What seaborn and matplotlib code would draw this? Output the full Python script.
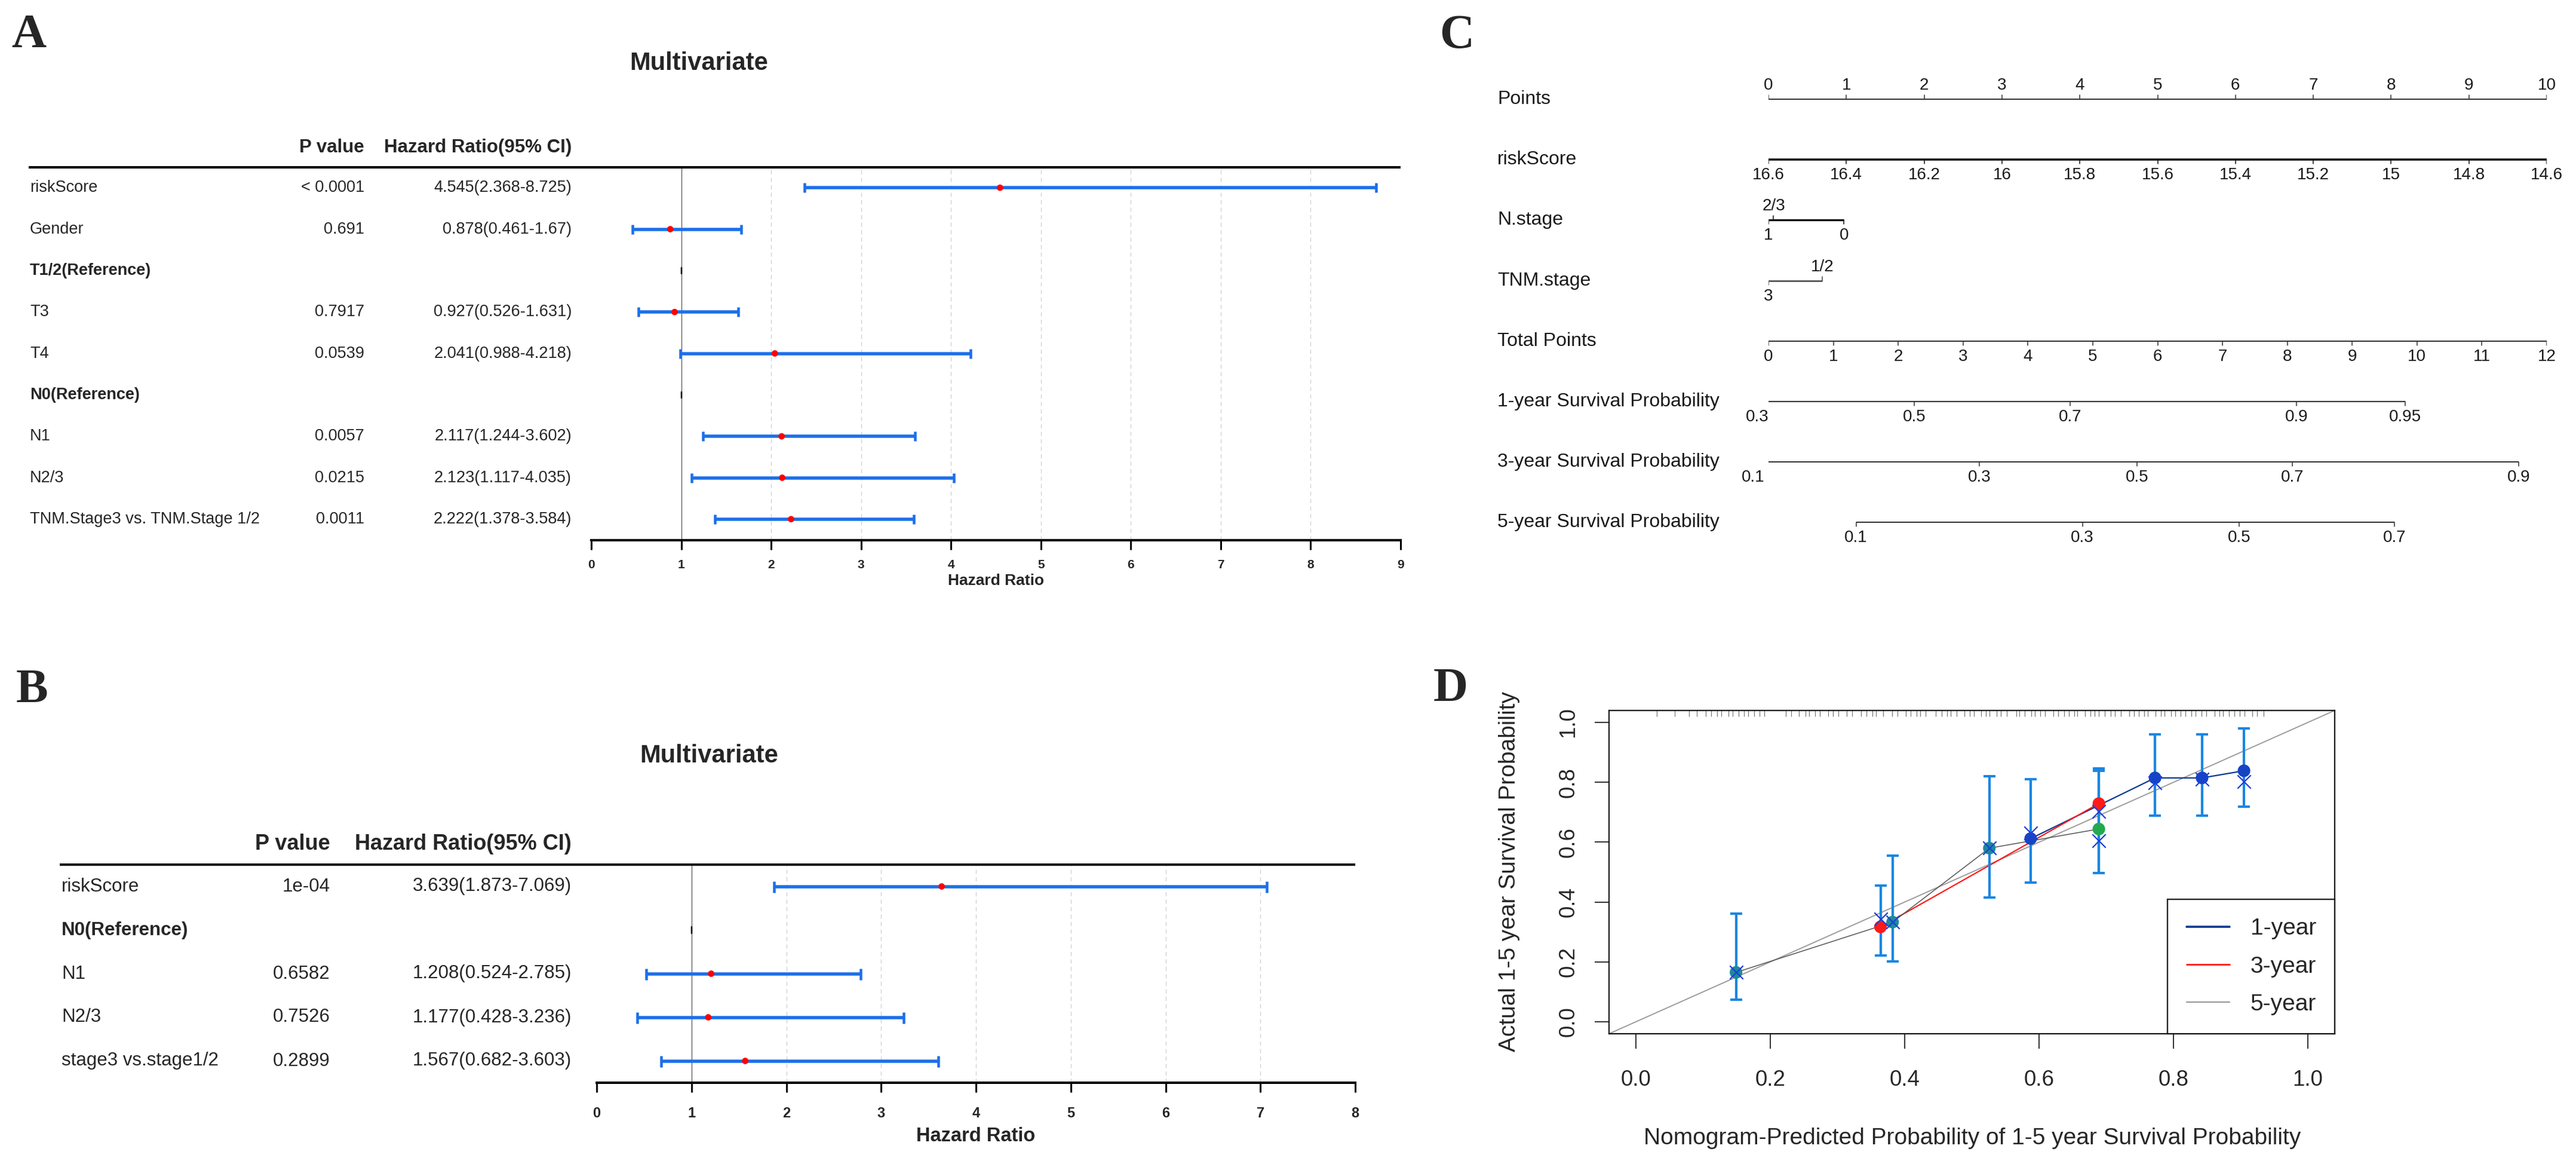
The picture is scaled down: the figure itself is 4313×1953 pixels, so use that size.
import numpy as np
import pandas as pd
import matplotlib
matplotlib.use("Agg")
import matplotlib.pyplot as plt
import seaborn as sns
from matplotlib import transforms
from matplotlib.lines import Line2D

# ======================= DATA =======================
# Panel A : multivariate Cox (forest plot)
A_names = ["riskScore", "Gender", "T1/2(Reference)", "T3", "T4", "N0(Reference)",
           "N1", "N2/3", "TNM.Stage3 vs. TNM.Stage 1/2"]
A_pvalue = ["< 0.0001", "0.691", "", "0.7917", "0.0539", "", "0.0057", "0.0215", "0.0011"]
A_hr = [4.545, 0.878, None, 0.927, 2.041, None, 2.117, 2.123, 2.222]
A_low = [2.368, 0.461, None, 0.526, 0.988, None, 1.244, 1.117, 1.378]
A_high = [8.725, 1.67, None, 1.631, 4.218, None, 3.602, 4.035, 3.584]
A_xticks = [0, 1, 2, 3, 4, 5, 6, 7, 8, 9]

# Panel B : multivariate Cox (forest plot)
B_names = ["riskScore", "N0(Reference)", "N1", "N2/3", "stage3 vs.stage1/2"]
B_pvalue = ["1e-04", "", "0.6582", "0.7526", "0.2899"]
B_hr = [3.639, None, 1.208, 1.177, 1.567]
B_low = [1.873, None, 0.524, 0.428, 0.682]
B_high = [7.069, None, 2.785, 3.236, 3.603]
B_xticks = [0, 1, 2, 3, 4, 5, 6, 7, 8]

# Panel C : nomogram (positions in points / total points)
C_points_ticks = [0, 1, 2, 3, 4, 5, 6, 7, 8, 9, 10]
C_risk_values = [16.6, 16.4, 16.2, 16.0, 15.8, 15.6, 15.4, 15.2, 15.0, 14.8, 14.6]
C_risk_points = [0, 1, 2, 3, 4, 5, 6, 7, 8, 9, 10]
C_nstage_labels = ["2/3", "1", "0"]
C_nstage_points = [0.065, 0.0, 0.97]
C_tnm_labels = ["1/2", "3"]
C_tnm_points = [0.69, 0.0]
C_total_ticks = [0, 1, 2, 3, 4, 5, 6, 7, 8, 9, 10, 11, 12]
C_surv1_values = [0.3, 0.5, 0.7, 0.9, 0.95]
C_surv1_total = [-0.17, 2.25, 4.65, 8.14, 9.82]
C_surv3_values = [0.1, 0.3, 0.5, 0.7, 0.9]
C_surv3_total = [-0.24, 3.25, 5.68, 8.08, 11.57]
C_surv5_values = [0.1, 0.3, 0.5, 0.7]
C_surv5_total = [1.35, 4.84, 7.26, 9.65]
C_max_points = 10
C_max_total = 12

# Panel D : calibration curves
D1_pred = [0.5875, 0.7726, 0.8426, 0.905]
D1_obs = [0.612, 0.8147, 0.8147, 0.8386]
D1_low = [0.4646, 0.689, 0.689, 0.7191]
D1_high = [0.8108, 0.9602, 0.9602, 0.980]
D1_corr = [0.6315, 0.7975, 0.81, 0.8028]

D3_pred = [0.364, 0.689]
D3_obs = [0.317, 0.729]
D3_low = [0.221, 0.4966]
D3_high = [0.456, 0.8466]
D3_corr = [0.343, 0.703]

D5_pred = [0.149, 0.382, 0.526, 0.689]
D5_obs = [0.165, 0.333, 0.580, 0.644]
D5_low = [0.074, 0.201, 0.416, 0.4966]
D5_high = [0.361, 0.554, 0.821, 0.8386]
D5_corr = [0.165, 0.333, 0.580, 0.604]

D_rug = [0.031, 0.058, 0.079, 0.091, 0.104, 0.112, 0.121, 0.127, 0.138, 0.144, 0.153,
         0.161, 0.167, 0.176, 0.184, 0.191, 0.223, 0.231, 0.243, 0.252, 0.258, 0.267,
         0.274, 0.286, 0.293, 0.301, 0.314, 0.322, 0.335, 0.343, 0.352, 0.357, 0.368,
         0.381, 0.389, 0.402, 0.409, 0.418, 0.423, 0.431, 0.446, 0.455, 0.463, 0.468,
         0.477, 0.489, 0.497, 0.503, 0.514, 0.521, 0.526, 0.537, 0.543, 0.552, 0.566,
         0.571, 0.579, 0.588, 0.594, 0.602, 0.609, 0.621, 0.628, 0.637, 0.644, 0.652,
         0.657, 0.668, 0.676, 0.683, 0.689, 0.698, 0.707, 0.713, 0.722, 0.734, 0.741,
         0.748, 0.756, 0.762, 0.773, 0.781, 0.787, 0.796, 0.803, 0.811, 0.818, 0.827,
         0.833, 0.842, 0.849, 0.861, 0.868, 0.874, 0.883, 0.891, 0.899, 0.906, 0.917,
         0.924, 0.934]
D_ticks = [0.0, 0.2, 0.4, 0.6, 0.8, 1.0]

# ======================= STYLE / LAYOUT =======================
sns.set_theme(style="white")
plt.rcParams["font.family"] = ["Liberation Sans", "DejaVu Sans"]
plt.rcParams["axes.unicode_minus"] = False

W, H, DPI = 4313, 1953, 100
PT = 72.0 / DPI
fig = plt.figure(figsize=(W / DPI, H / DPI), dpi=DPI)
fig.patch.set_facecolor("white")


def add_ax(l, t, r, b):
    return fig.add_axes([l / W, 1 - b / H, (r - l) / W, (b - t) / H])


def ftext(x, y, s, **kw):
    return fig.text(x / W, 1 - y / H, s, **kw)


SERIF = ["Liberation Serif", "DejaVu Serif"]
for letter, x, y in [("A", 19, 79), ("B", 27, 1175), ("C", 2410, 80), ("D", 2400, 1173)]:
    ftext(x, y, letter, fontsize=58, fontweight="bold", family=SERIF, ha="left", va="baseline")

BLUE = "#1C6FE8"


def fmt(v):
    return f"{v:g}"


def forest(names, pvals, hr, lo, hi, xticks, box, line_left, name_x, p_x, hr_x, head_y,
           title_xy, xlab_y, fs_row, fs_head, fs_title, fs_tick, fs_xlab, tick_pad, cap_px):
    l, t, r, b = box
    ax = add_ax(l, t, r, b)
    n = len(names)
    df = pd.DataFrame({"row": np.arange(n, dtype=float),
                       "hr": pd.array(hr, dtype="Float64").astype(float),
                       "lo": pd.array(lo, dtype="Float64").astype(float),
                       "hi": pd.array(hi, dtype="Float64").astype(float)})
    est = df.dropna()
    ref = df[df["hr"].isna()]

    for g in xticks[2:-1]:
        ax.axvline(g, color="#d2d2d2", lw=1.0, ls=(0, (5, 4)), zorder=0)
    ax.axvline(1, color="#5f5f5f", lw=1.0, zorder=1)

    ax.errorbar(est["hr"], est["row"],
                xerr=[est["hr"] - est["lo"], est["hi"] - est["hr"]],
                fmt="none", ecolor=BLUE, elinewidth=5.5 * PT, capsize=cap_px / 2 * PT,
                capthick=4.5 * PT, zorder=3)
    sns.scatterplot(data=est, x="hr", y="row", color="red", s=60, edgecolor="none",
                    zorder=5, ax=ax, legend=False)
    for rr in ref["row"]:
        ax.plot([1, 1], [rr - 0.07, rr + 0.07], color="black", lw=2.5 * PT, zorder=4)

    ax.set_xlim(xticks[0], xticks[-1])
    ax.set_ylim(n - 0.5, -0.5)
    ax.set_xlabel("")
    ax.set_ylabel("")
    ax.set_yticks([])
    for s in ["top", "left", "right"]:
        ax.spines[s].set_visible(False)
    ax.spines["bottom"].set_linewidth(4 * PT)
    ax.spines["bottom"].set_color("black")
    ax.set_xticks(xticks)
    ax.set_xticklabels([str(v) for v in xticks], fontweight="bold")
    ax.tick_params(axis="x", direction="out", length=16 * PT, width=3 * PT,
                   labelsize=fs_tick, pad=tick_pad, color="black", bottom=True)
    ax.set_facecolor("none")

    tr = transforms.blended_transform_factory(fig.transFigure, ax.transData)
    ax.plot([line_left / W, r / W], [-0.5, -0.5], transform=tr, color="black",
            lw=4 * PT, clip_on=False, solid_capstyle="butt")
    for i in range(n):
        isref = np.isnan(df["hr"].iloc[i])
        ax.text(name_x / W, i, names[i], transform=tr, ha="left", va="center",
                fontsize=fs_row, fontweight="bold" if isref else "normal")
        if not isref:
            ax.text(p_x / W, i, pvals[i], transform=tr, ha="right", va="center", fontsize=fs_row)
            txt = f"{fmt(df['hr'].iloc[i])}({fmt(df['lo'].iloc[i])}-{fmt(df['hi'].iloc[i])})"
            ax.text(hr_x / W, i, txt, transform=tr, ha="right", va="center", fontsize=fs_row)
    ftext(p_x, head_y, "P value", ha="right", va="center", fontsize=fs_head, fontweight="bold")
    ftext(hr_x, head_y, "Hazard Ratio(95% CI)", ha="right", va="center", fontsize=fs_head,
          fontweight="bold")
    ftext(title_xy[0], title_xy[1], "Multivariate", ha="center", va="center",
          fontsize=fs_title, fontweight="bold")
    ftext((l + r) / 2, xlab_y, "Hazard Ratio", ha="center", va="center", fontsize=fs_xlab,
          fontweight="bold")
    return ax


forest(A_names, A_pvalue, A_hr, A_low, A_high, A_xticks,
       box=(990, 279.5, 2345, 903.5), line_left=48, name_x=50, p_x=610, hr_x=957,
       head_y=247, title_xy=(1170, 106), xlab_y=972,
       fs_row=19.5, fs_head=22.5, fs_title=30, fs_tick=15, fs_xlab=19, tick_pad=12, cap_px=16)

forest(B_names, B_pvalue, B_hr, B_low, B_high, B_xticks,
       box=(999, 1447, 2269, 1812), line_left=100, name_x=103, p_x=553, hr_x=957,
       head_y=1413, title_xy=(1187, 1265), xlab_y=1901,
       fs_row=22.5, fs_head=26, fs_title=30, fs_tick=17, fs_xlab=23.5, tick_pad=17, cap_px=19)

# ---------------- Panel C : nomogram ----------------
axC = add_ax(2961, 100, 4264, 960)
axC.set_xlim(0, C_max_total)
axC.set_ylim(960, 100)
axC.axis("off")
trC = transforms.blended_transform_factory(fig.transFigure, axC.transData)
pts2tot = C_max_total / C_max_points
INK = "#1a1a1a"
FS_CLAB, FS_CTICK = 23, 20


def scale(y, xs, labels, sides, lw=1.4, color="#303030", tick=7):
    axC.plot([min(xs), max(xs)], [y, y], color=color, lw=lw, solid_capstyle="butt")
    for x, lab, side in zip(xs, labels, sides):
        sg = -1 if side == "above" else 1
        axC.plot([x, x], [y, y + sg * tick], color=color, lw=1.1)
        off = 23 if side == "above" else 26
        axC.text(x, y + sg * off, lab, ha="center", va="center", fontsize=FS_CTICK, color=INK)


rows_C = [("Points", 166), ("riskScore", 267), ("N.stage", 368), ("TNM.stage", 470),
          ("Total Points", 571), ("1-year Survival Probability", 672),
          ("3-year Survival Probability", 773), ("5-year Survival Probability", 874)]
for lab, y in rows_C:
    axC.text(2507 / W, y, lab, transform=trC, ha="left", va="center", fontsize=FS_CLAB, color=INK)

scale(166, [p * pts2tot for p in C_points_ticks], [str(v) for v in C_points_ticks],
      ["above"] * len(C_points_ticks))
scale(267, [p * pts2tot for p in C_risk_points], [fmt(v) for v in C_risk_values],
      ["below"] * len(C_risk_values), lw=2.6, color="#111111")
scale(368, [p * pts2tot for p in C_nstage_points], C_nstage_labels,
      ["above", "below", "below"], lw=2.4, color="#111111")
scale(470, [p * pts2tot for p in C_tnm_points], C_tnm_labels, ["above", "below"],
      lw=1.8, color="#444444")
scale(571, C_total_ticks, [str(v) for v in C_total_ticks], ["below"] * len(C_total_ticks))
scale(672, C_surv1_total, [fmt(v) for v in C_surv1_values], ["below"] * len(C_surv1_values))
scale(773, C_surv3_total, [fmt(v) for v in C_surv3_values], ["below"] * len(C_surv3_values))
scale(874, C_surv5_total, [fmt(v) for v in C_surv5_values], ["below"] * len(C_surv5_values))

# ---------------- Panel D : calibration ----------------
axD = add_ax(2694, 1189, 3909, 1730)
axD.set_xlim(-0.04, 1.04)
axD.set_ylim(-0.04, 1.04)
axD.set_facecolor("white")
axD.axline((0, 0), slope=1, color="#9c9c9c", lw=1.4, zorder=1)

NAVY, RED, GREY = "#0B3A8F", "#FF1A1A", "#8a8a8a"
curves = [
    ("1-year", D1_pred, D1_obs, D1_low, D1_high, D1_corr, NAVY, 1.6, ["#1544C4"] * 4),
    ("3-year", D3_pred, D3_obs, D3_low, D3_high, D3_corr, RED, 1.6, ["#FF1A1A"] * 2),
    ("5-year", D5_pred, D5_obs, D5_low, D5_high, D5_corr, "#555555", 1.1,
     ["#1C8A9C", "#1C8A9C", "#1C8A9C", "#22AA4E"]),
]
for name, xp, yo, lo, hi, yc, col, lw, mcols in curves:
    sns.lineplot(x=xp, y=yo, sort=False, color=col, lw=lw, ax=axD, zorder=2, legend=False)
for name, xp, yo, lo, hi, yc, col, lw, mcols in curves:
    xp_a, yo_a = np.array(xp), np.array(yo)
    axD.errorbar(xp_a, yo_a, yerr=[yo_a - np.array(lo), np.array(hi) - yo_a], fmt="none",
                 ecolor="#1A86E2", elinewidth=4.2 * PT, capsize=10 * PT,
                 capthick=4 * PT, zorder=3)
for name, xp, yo, lo, hi, yc, col, lw, mcols in curves:
    sns.scatterplot(x=xp, y=yo, hue=list(range(len(xp))), palette=mcols, s=230,
                    edgecolor="none", ax=axD, zorder=5, legend=False)
    axD.scatter(xp, yc, marker="x", s=260, color="#1E3FD6", linewidths=1.6, zorder=6)

trD = transforms.blended_transform_factory(axD.transData, axD.transAxes)
axD.vlines(D_rug, 0.981, 1.0, transform=trD, color="#6e6e6e", lw=0.8, zorder=1)

axD.set_xlabel("")
axD.set_ylabel("")
axD.set_xticks(D_ticks)
axD.set_xticklabels([f"{v:.1f}" for v in D_ticks])
axD.set_yticks(D_ticks)
axD.set_yticklabels([f"{v:.1f}" for v in D_ticks])
axD.tick_params(axis="x", direction="out", length=25 * PT, width=1.3, labelsize=26.5,
                pad=25, bottom=True, color="#222222")
axD.tick_params(axis="y", direction="out", length=24 * PT, width=1.3, labelsize=26.5,
                pad=19, left=True, labelrotation=90, color="#222222")
for lab in axD.get_yticklabels():
    lab.set_va("center")
for s in axD.spines.values():
    s.set_visible(True)
    s.set_color("#111111")
    s.set_linewidth(1.6)
axD.grid(False)

ftext(3302, 1905, "Nomogram-Predicted Probability of 1-5 year Survival Probability",
      ha="center", va="center", fontsize=28)
ftext(2527, 1458, "Actual 1-5 year Survival Probability", ha="center", va="center",
      rotation=90, fontsize=28)

handles = [Line2D([], [], color=NAVY, lw=2.6), Line2D([], [], color=RED, lw=2.0),
           Line2D([], [], color="#9a9a9a", lw=1.6)]
leg = axD.legend(handles, ["1-year", "3-year", "5-year"], loc="lower right",
                 bbox_to_anchor=(1, 0), borderaxespad=0, frameon=True, fancybox=False,
                 edgecolor="#111111", framealpha=1, fontsize=28, handlelength=1.85,
                 handletextpad=0.9, borderpad=0.8, labelspacing=0.7)
leg.get_frame().set_linewidth(1.6)

fig.savefig("out.png", dpi=DPI, facecolor="white")
